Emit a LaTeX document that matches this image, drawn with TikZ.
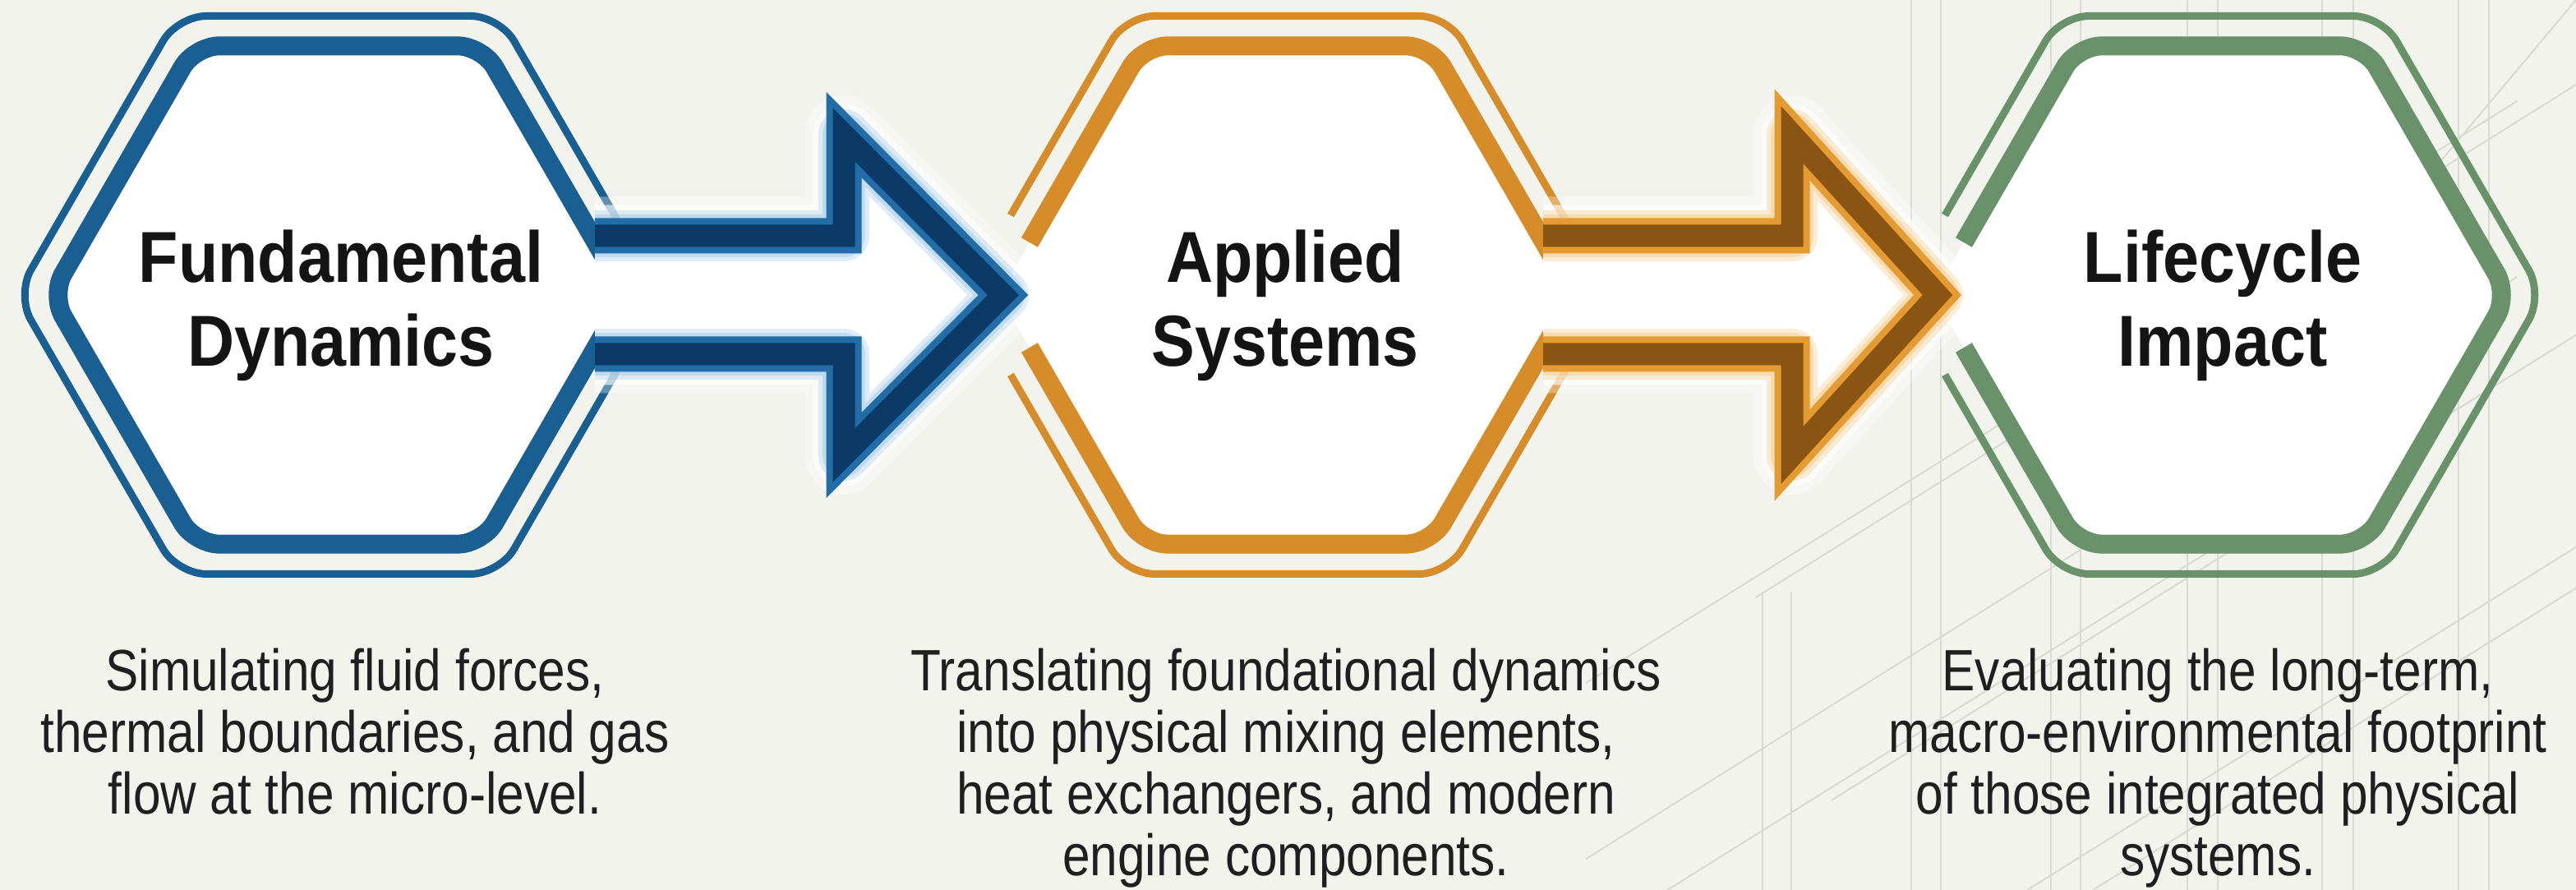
\documentclass[tikz,border=0pt]{standalone}
\usepackage{fontspec}
\setmainfont{Liberation Sans}
\newfontfamily\titlefont[FakeStretch=0.9]{Liberation Sans}
\newfontfamily\descfont[FakeStretch=0.85]{Liberation Sans}
\usepackage{tikz}
\usetikzlibrary{calc}

\definecolor{paper}{RGB}{243,243,238}
\definecolor{gridline}{RGB}{218,218,212}
\definecolor{blueline}{RGB}{26,95,145}
\definecolor{bluecore}{RGB}{11,58,102}
\definecolor{blueedge}{RGB}{34,108,168}
\definecolor{blueglow}{RGB}{150,195,230}
\definecolor{orangeline}{RGB}{214,140,40}
\definecolor{orangecore}{RGB}{138,84,18}
\definecolor{orangeedge}{RGB}{228,156,50}
\definecolor{orangeglow}{RGB}{245,195,120}
\definecolor{greenline}{RGB}{106,146,106}

\newcommand{\hexclosed}[2]{($(#1)+(#2,0)$) -- ($(#1)+(60:#2)$) -- ($(#1)+(120:#2)$) -- ($(#1)+(180:#2)$) -- ($(#1)+(240:#2)$) -- ($(#1)+(300:#2)$) -- cycle}
\newcommand{\hexopen}[3]{($(#1)+({-#2+0.577*#3},-#3)$) -- ($(#1)+(240:#2)$) -- ($(#1)+(300:#2)$) -- ($(#1)+(#2,0)$) -- ($(#1)+(60:#2)$) -- ($(#1)+(120:#2)$) -- ($(#1)+({-#2+0.577*#3},#3)$)}
\newcommand{\arrowline}[2]{($(#1)+(3.12,0.72)$) -- ($(#1)+(6.15,0.72)$) -- ($(#1)+(6.15,1.95)$) -- ($(#2)+(-3.45,0)$) -- ($(#1)+(6.15,-1.95)$) -- ($(#1)+(6.15,-0.72)$) -- ($(#1)+(3.12,-0.72)$)}
\newcommand{\flowarrow}[3]{%
  \draw[white, line width=0.95cm, line join=round, opacity=0.3] \arrowline{#1}{#2};
  \draw[white, line width=0.75cm, line join=round, opacity=0.6] \arrowline{#1}{#2};
  \fill[white] \arrowline{#1}{#2} -- cycle;
  \draw[#3glow, line width=0.62cm, line join=round, opacity=0.3] \arrowline{#1}{#2};
  \draw[#3glow, line width=0.52cm, line join=round, opacity=0.4] \arrowline{#1}{#2};
  \draw[#3edge, line width=0.43cm] \arrowline{#1}{#2};
  \draw[#3core, line width=0.27cm] \arrowline{#1}{#2};
}

\tikzset{
  gridstroke/.style={draw=gridline, line width=0.02cm},
  thinframe/.style={line width=0.09cm, rounded corners=0.35cm},
  thickframe/.style={line width=0.23cm, rounded corners=0.3cm},
  title/.style={font=\titlefont\bfseries\fontsize{25}{29}\selectfont, align=center, inner sep=0pt, text=black!92},
  desc/.style={font=\descfont\fontsize{20.2}{21.4}\selectfont, align=center, anchor=north, inner sep=0pt, text=black!88}
}

\begin{document}
\begin{tikzpicture}
  \useasboundingbox (0,0) rectangle (31.35,10.83);
  \fill[paper] (0,0) rectangle (31.35,10.83);

  % drafting lines behind the last stage
  \begin{scope}
    \clip (19.3,0) rectangle (31.35,10.83);
    \foreach \x in {23.26,23.62,24.96,25.32,26.62,26.99,28.26,28.64,29.92,30.29}
      \draw[gridstroke] (\x,0) -- (\x,10.83);
    \foreach \x in {21.45,21.80}
      \draw[gridstroke] (\x,0) -- (\x,3.63);
    \foreach \x/\y in {20.5/0.13, 23.0/2.69, 23.0/4.83, 26.0/0.83, 29.92/5.86, 30.0/2.83, 29.0/8.33}
      \draw[gridstroke] (\x,\y) ++(212:9) -- ++(32:18);
    \draw[gridstroke] (30.4,9.7) ++(230:3) -- ++(50:6);
  \end{scope}

  \coordinate (hA) at (4.12,7.24);
  \coordinate (hB) at (15.66,7.24);
  \coordinate (hC) at (27.03,7.24);

  % hexagons
  \fill[white] \hexclosed{hA}{3.5};
  \draw[thinframe, blueline] \hexclosed{hA}{3.92};
  \draw[thickframe, blueline] \hexclosed{hA}{3.5};

  \fill[white] \hexclosed{hB}{3.5};
  \draw[thinframe, orangeline] \hexopen{hB}{3.92}{0.97};
  \draw[thickframe, orangeline] \hexopen{hB}{3.5}{0.64};

  \fill[white] \hexclosed{hC}{3.5};
  \draw[thinframe, greenline] \hexopen{hC}{3.92}{0.97};
  \draw[thickframe, greenline] \hexopen{hC}{3.5}{0.64};

  % arrows
  \flowarrow{hA}{hB}{blue}
  \flowarrow{hB}{hC}{orange}

  \node[title] (tA) at (4.15,7.11) {Fundamental\\Dynamics};
  \node[title] (tB) at (15.64,7.11) {Applied\\Systems};
  \node[title] (tC) at (27.05,7.11) {Lifecycle\\Impact};

  \node[desc] (dA) at (4.32,2.95) {Simulating fluid forces,\\thermal boundaries, and gas\\flow at the micro-level.};
  \node[desc] (dB) at (15.65,2.95) {Translating foundational dynamics\\into physical mixing elements,\\heat exchangers, and modern\\engine components.};
  \node[desc] (dC) at (26.99,2.95) {Evaluating the long-term,\\macro-environmental footprint\\of those integrated physical\\systems.};
\end{tikzpicture}
\end{document}
